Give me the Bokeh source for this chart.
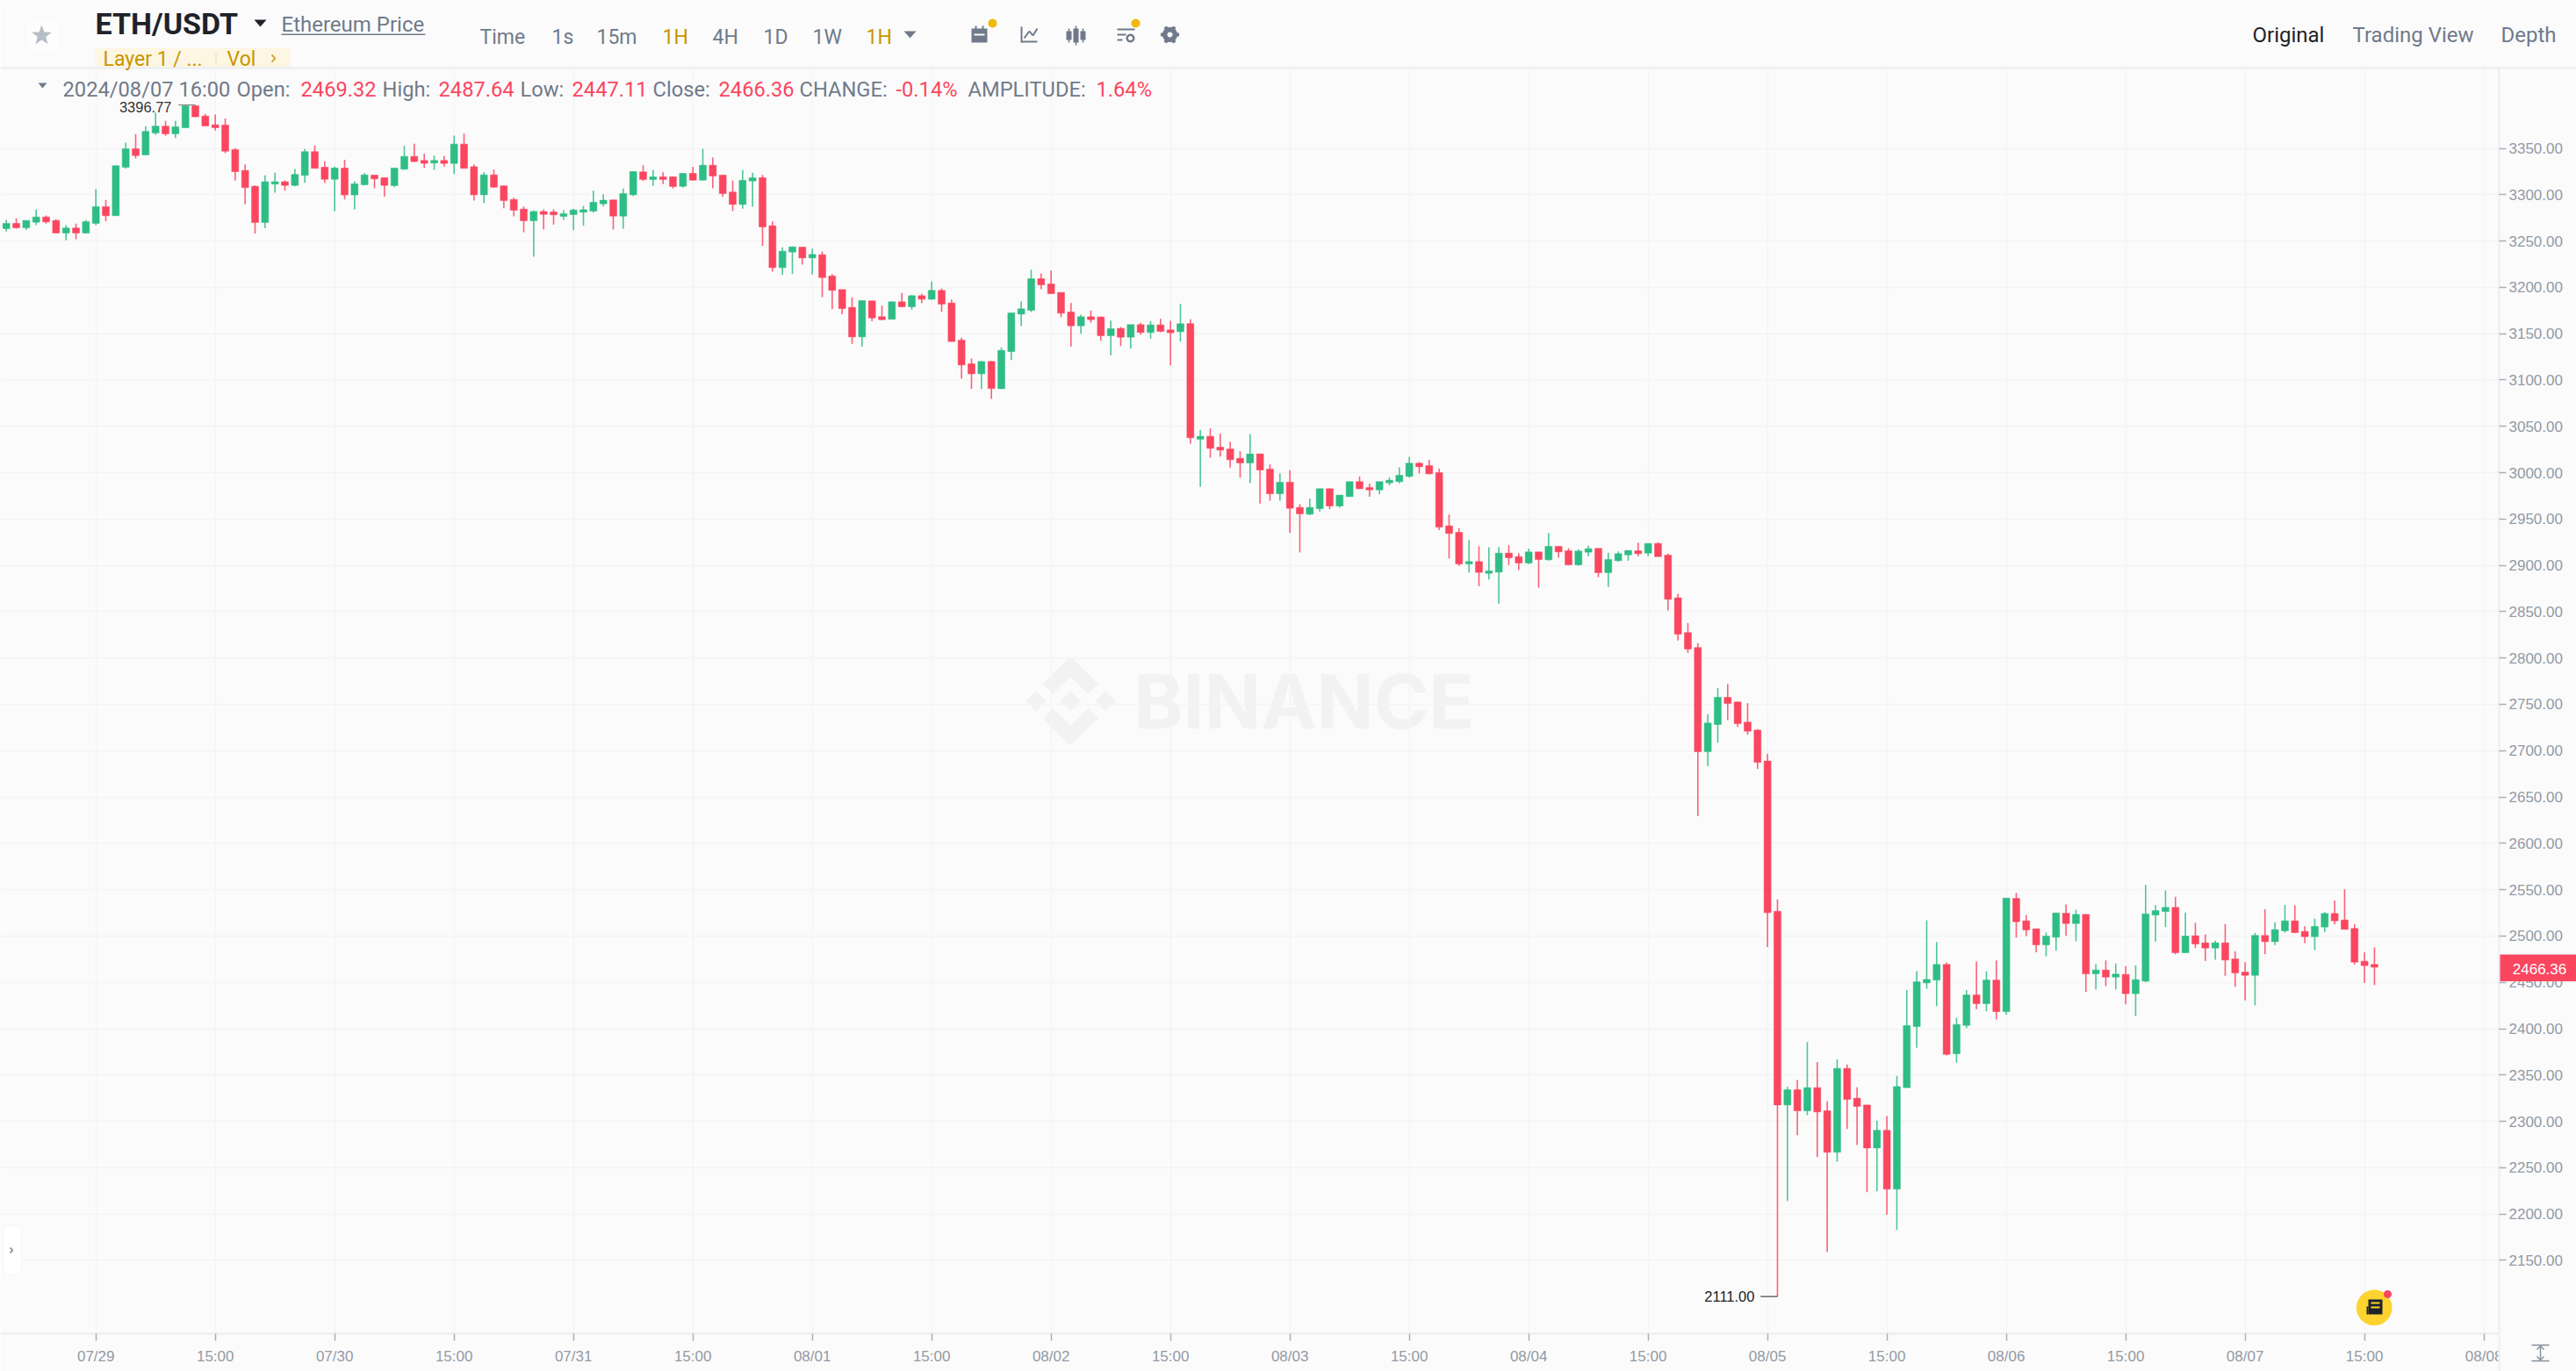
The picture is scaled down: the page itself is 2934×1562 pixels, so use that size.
import math
from bokeh.plotting import figure
from bokeh.models import (BoxAnnotation, ColumnDataSource, FixedTicker, Label,
                          PolyAnnotation, PrintfTickFormatter, Range1d)
from bokeh.core.properties import value
from bokeh.embed import file_html
from bokeh.resources import INLINE

highs = [3272.8,3274.4,3272.2,3283.9,3277.6,3273.5,3267.2,3268.7,3272.8,3306.0,
3294.3,3331.2,3356.2,3365.3,3373.9,3388.7,3379.5,3379.5,3396.0,3396.77,
3387.1,3386.5,3382.1,3350.2,3332.8,3310.1,3320.8,3323.7,3315.5,3327.8,
3349.2,3353.0,3336.0,3330.3,3337.6,3314.5,3323.3,3321.1,3318.6,3328.7,
3352.7,3354.9,3344.2,3342.3,3341.6,3363.7,3365.9,3332.8,3324.2,3327.1,
3310.0,3296.8,3287.3,3283.2,3284.2,3284.5,3283.2,3284.8,3287.9,3304.4,
3300.6,3294.3,3306.6,3325.2,3331.8,3326.5,3324.2,3319.5,3323.0,3330.2,
3349.5,3340.0,3321.1,3315.1,3326.5,3323.6,3321.4,3271.2,3243.1,3244.1,
3243.7,3241.9,3238.7,3214.4,3197.6,3189.1,3185.7,3185.4,3180.3,3184.4,
3193.9,3191.7,3193.2,3206.5,3198.9,3186.9,3145.6,3123.2,3120.0,3120.6,
3135.2,3172.4,3184.7,3219.1,3215.0,3218.2,3194.5,3183.1,3170.5,3174.9,
3168.3,3164.2,3157.2,3159.8,3161.7,3163.6,3166.1,3163.9,3182.2,3165.5,
3046.2,3047.8,3042.1,3033.5,3023.1,3041.4,3020.3,3008.9,2999.1,3002.6,
2966.0,2972.0,2983.0,2982.7,2975.8,2990.3,2996.0,2988.1,2990.3,2995.0,
3005.8,3017.1,3011.4,3014.0,3004.5,2954.9,2940.1,2927.4,2920.5,2919.5,
2919.8,2921.7,2913.2,2918.0,2914.5,2935.0,2920.5,2918.6,2917.3,2921.1,
2918.3,2913.5,2915.1,2916.1,2924.6,2923.6,2924.9,2912.6,2869.4,2837.8,
2816.0,2739.3,2767.7,2772.1,2752.6,2751.3,2723.2,2696.7,2539.4,2337.6,
2344.6,2385.6,2364.1,2321.8,2367.0,2361.3,2336.7,2317.7,2300.7,2305.7,
2349.0,2441.8,2462.0,2517.0,2493.6,2471.5,2411.8,2441.8,2472.4,2462.0,
2473.7,2540.9,2546.6,2522.7,2507.8,2503.7,2524.9,2534.0,2528.4,2523.9,
2469.6,2473.7,2470.3,2467.4,2468.4,2555.2,2533.4,2549.2,2542.3,2525.2,
2514.2,2501.8,2494.9,2512.9,2483.5,2471.8,2503.4,2529.0,2514.8,2533.7,
2533.1,2510.7,2518.6,2525.8,2538.2,2550.5,2512.9,2482.3,2487.64]

lows = [3260.2,3263.4,3261.8,3267.2,3268.7,3258.6,3250.7,3251.7,3258.0,3267.2,
3271.3,3277.3,3328.1,3339.1,3342.9,3364.4,3363.4,3361.2,3372.3,3383.3,
3374.2,3369.1,3344.8,3315.1,3289.6,3258.0,3263.7,3302.2,3304.4,3309.1,
3312.9,3328.1,3312.6,3282.0,3294.9,3283.9,3310.1,3306.9,3297.8,3308.2,
3327.1,3335.0,3328.7,3326.8,3330.2,3322.4,3328.4,3293.6,3291.1,3307.5,
3285.4,3276.6,3259.5,3233.0,3262.4,3267.7,3272.8,3261.7,3266.5,3280.7,
3287.3,3262.4,3263.3,3298.4,3314.8,3309.4,3311.3,3306.6,3307.5,3315.1,
3315.4,3306.9,3297.7,3282.3,3284.8,3287.0,3244.7,3216.9,3213.4,3214.4,
3224.5,3213.8,3189.4,3176.5,3171.1,3138.9,3136.1,3163.3,3164.5,3165.5,
3178.7,3175.9,3183.1,3186.6,3173.4,3141.5,3101.7,3090.3,3090.3,3079.6,
3090.3,3121.6,3158.2,3173.4,3198.0,3192.9,3167.7,3136.1,3150.0,3161.7,
3142.4,3126.6,3136.7,3133.9,3149.0,3144.6,3151.6,3115.9,3141.5,3031.3,
2984.9,3016.2,3017.4,3005.4,2994.7,2988.7,2966.6,2969.8,2969.8,2935.0,
2914.0,2954.0,2957.8,2960.6,2962.2,2973.9,2982.1,2973.9,2976.7,2986.2,
2988.4,2994.7,2999.1,2998.2,2938.0,2907.5,2899.3,2892.4,2877.5,2884.8,
2858.6,2900.3,2894.9,2901.2,2875.9,2905.0,2908.5,2900.0,2899.6,2909.7,
2887.3,2876.6,2904.1,2905.0,2909.7,2909.7,2909.4,2851.3,2818.8,2805.6,
2629.4,2683.1,2708.7,2733.0,2725.7,2717.2,2680.3,2488.2,2111.0,2214.2,
2285.2,2306.7,2261.5,2159.3,2256.2,2291.8,2274.5,2223.7,2224.6,2199.3,
2182.9,2336.4,2379.3,2443.1,2424.4,2371.1,2363.5,2400.8,2421.0,2418.8,
2409.9,2415.0,2498.3,2499.9,2482.3,2478.2,2484.2,2500.3,2494.3,2439.6,
2442.5,2446.0,2442.2,2426.4,2413.8,2450.1,2493.9,2509.7,2480.4,2481.6,
2487.0,2473.1,2474.4,2457.0,2445.3,2430.5,2425.1,2480.4,2490.2,2503.7,
2503.1,2492.4,2484.8,2504.1,2512.6,2507.2,2469.3,2449.4,2447.11]

opens = [3263.4,3269.0,3264.3,3270.3,3276.0,3272.2,3258.6,3264.0,3258.6,3269.0,
3287.1,3277.3,3329.6,3349.6,3342.9,3366.6,3373.9,3365.7,3372.3,3396.0,
3384.9,3375.4,3375.1,3348.6,3326.2,3309.1,3270.0,3311.4,3313.9,3310.1,
3320.8,3346.4,3329.6,3316.7,3328.7,3299.7,3310.7,3321.1,3318.3,3309.8,
3327.4,3341.3,3336.9,3334.1,3336.9,3333.7,3354.6,3330.2,3299.9,3321.4,
3309.4,3294.9,3284.5,3271.8,3281.9,3281.3,3276.6,3278.5,3281.0,3282.3,
3290.2,3294.3,3276.9,3299.9,3324.6,3316.4,3319.2,3319.2,3309.1,3323.0,
3315.7,3331.8,3321.1,3302.8,3289.5,3314.8,3318.3,3266.5,3221.3,3238.1,
3243.4,3231.7,3235.2,3212.2,3197.6,3178.4,3146.5,3185.4,3168.3,3165.5,
3184.4,3179.0,3191.0,3187.2,3196.7,3183.1,3143.0,3117.5,3106.7,3120.0,
3090.6,3130.7,3171.1,3175.2,3209.3,3203.7,3194.5,3173.4,3158.5,3168.3,
3168.0,3147.8,3155.7,3146.2,3159.8,3151.3,3159.5,3154.1,3152.2,3160.8,
3036.1,3039.2,3027.5,3025.6,3015.5,3010.5,3020.3,3003.9,2977.3,2989.7,
2962.5,2955.2,2961.2,2982.7,2964.1,2974.2,2990.3,2984.0,2981.4,2989.0,
2990.3,2996.0,3010.2,3007.6,3000.1,2942.6,2935.6,2901.5,2904.1,2891.4,
2892.7,2913.2,2909.4,2902.5,2914.5,2906.0,2920.5,2915.7,2900.6,2914.2,
2918.3,2892.1,2905.0,2911.3,2915.7,2913.2,2923.6,2911.0,2865.0,2827.4,
2811.3,2698.9,2728.2,2757.6,2752.6,2730.8,2722.2,2688.8,2526.7,2317.7,
2334.1,2311.4,2336.4,2311.4,2266.6,2357.2,2325.0,2317.7,2271.3,2290.3,
2226.8,2336.4,2402.3,2449.4,2452.5,2469.3,2373.0,2403.6,2436.4,2427.0,
2452.5,2418.4,2540.6,2516.4,2507.8,2490.5,2498.7,2524.6,2513.5,2523.3,
2459.2,2463.3,2455.7,2458.6,2437.8,2451.3,2522.7,2526.5,2530.9,2482.0,
2500.3,2492.7,2487.0,2492.7,2475.3,2461.1,2457.6,2500.6,2493.9,2505.6,
2516.4,2505.0,2499.3,2509.7,2524.3,2517.3,2508.2,2472.8,2469.32]

closes = [3269.0,3264.3,3272.2,3276.0,3270.6,3258.6,3264.0,3258.6,3270.9,3287.1,
3277.3,3331.2,3349.6,3342.3,3368.2,3373.9,3365.7,3373.2,3396.0,3384.0,
3374.2,3372.3,3347.0,3324.9,3307.6,3270.0,3313.9,3313.9,3310.1,3321.8,
3346.4,3328.4,3316.7,3328.7,3299.7,3311.7,3321.4,3317.0,3310.1,3328.7,
3341.3,3335.7,3333.8,3336.9,3333.7,3354.6,3328.4,3299.9,3321.4,3308.1,
3293.6,3283.2,3271.8,3281.9,3278.8,3278.2,3279.4,3283.5,3283.8,3291.7,
3294.0,3276.9,3301.2,3324.9,3316.4,3319.2,3316.4,3308.8,3323.0,3315.7,
3331.8,3320.1,3301.2,3289.5,3315.4,3318.3,3265.2,3221.3,3239.0,3243.7,
3231.7,3235.5,3210.6,3196.7,3177.1,3146.5,3185.7,3167.0,3165.1,3184.4,
3179.0,3191.0,3187.2,3196.7,3181.9,3141.5,3116.2,3106.7,3120.0,3090.9,
3132.0,3172.4,3176.8,3209.3,3202.7,3193.2,3172.1,3158.5,3168.3,3165.1,
3147.8,3155.4,3146.2,3159.8,3151.3,3159.5,3152.5,3151.0,3160.7,3037.6,
3039.2,3026.3,3024.4,3014.0,3010.5,3020.3,3002.9,2977.3,2989.7,2961.6,
2955.6,2962.5,2982.7,2964.1,2975.8,2990.3,2982.7,2981.4,2990.3,2991.9,
2997.2,3010.2,3006.4,2998.8,2941.3,2934.4,2901.5,2904.1,2892.4,2894.0,
2913.2,2908.2,2902.5,2914.5,2906.3,2920.5,2914.5,2900.6,2915.4,2917.9,
2892.1,2906.3,2912.6,2916.1,2912.6,2923.6,2909.4,2863.4,2825.8,2809.7,
2698.9,2729.8,2757.6,2751.0,2729.2,2721.0,2687.5,2525.2,2317.7,2334.1,
2311.4,2336.4,2310.2,2266.6,2357.2,2323.7,2316.2,2271.3,2290.3,2226.8,
2337.6,2403.3,2450.6,2453.2,2469.3,2372.3,2404.5,2436.4,2427.0,2452.5,
2418.4,2540.9,2515.4,2506.6,2490.5,2499.9,2524.9,2513.5,2523.3,2459.2,
2463.3,2455.7,2458.9,2437.8,2452.9,2523.9,2527.4,2530.9,2482.0,2499.9,
2491.4,2487.0,2492.7,2474.1,2460.2,2457.6,2500.6,2493.9,2506.9,2516.4,
2503.7,2499.3,2510.4,2524.3,2516.4,2507.2,2471.8,2468.1,2466.36]

tick_labels = ["07/29","15:00","07/30","15:00","07/31","15:00","08/01","15:00","08/02","15:00",
               "08/03","15:00","08/04","15:00","08/05","15:00","08/06","15:00","08/07","15:00","08/08"]
price_ticks = list(range(2150, 3351, 50))

assert len(highs) == len(lows) == len(opens) == len(closes) == 239

GREEN, RED = "#2EBD85", "#FB4660"
GREY, GOLD, DARK = "#707A8A", "#C99400", "#1E2329"
BG = "#FBFBFB"
AXIS_TXT = "#929AA5"
LINE = "#EAECEF"
HOUR_PX, PX0 = 11.333, 6.7
USD_PX, PY0 = 1.0558, 168.5

def xd(px):
    return (px - PX0) / HOUR_PX

def yd(py):
    return 3350 + (PY0 - py) / USD_PX

def at(x, y):
    return {"position": "absolute", "left": f"{x}px", "top": f"{y}px"}

p = figure(width=2934, height=1562, frame_width=2846, frame_height=1442,
           output_backend="svg", toolbar_location=None, tools="",
           x_range=Range1d(xd(0), xd(2846)), y_range=Range1d(yd(1519), yd(77)),
           x_axis_location="below", y_axis_location="right",
           min_border_left=0, min_border_right=88, min_border_top=77, min_border_bottom=43,
           background_fill_color=BG, border_fill_color=BG, outline_line_color=None,
           styles=at(0, 0))

idx = list(range(len(highs)))
src = ColumnDataSource(dict(
    x=idx, o=opens, h=highs, l=lows, c=closes,
    top=[max(a, b) for a, b in zip(opens, closes)],
    bot=[min(a, b) for a, b in zip(opens, closes)],
    col=[GREEN if c >= o else RED for o, c in zip(opens, closes)]))

p.segment("x", "h", "x", "l", source=src, color="col", line_width=1.6, line_alpha=0.85)
p.vbar("x", 0.7, "bot", "top", source=src, fill_color="col", line_color="col", line_width=0.5)

x_ticks = [9 + 12 * k for k in range(len(tick_labels))]
p.xaxis.ticker = FixedTicker(ticks=x_ticks)
p.xaxis.major_label_overrides = {t: s for t, s in zip(x_ticks, tick_labels)}
p.yaxis.ticker = FixedTicker(ticks=price_ticks)
p.yaxis.formatter = PrintfTickFormatter(format="%.2f")
for ax in (p.xaxis[0], p.yaxis[0]):
    ax.axis_line_color = LINE
    ax.axis_line_width = 2
    ax.major_tick_line_color = "#A7AEB9"
    ax.major_tick_line_width = 1.5
    ax.major_tick_out = 8
    ax.major_tick_in = 0
    ax.minor_tick_line_color = None
    ax.major_label_text_font = "Liberation Sans"
    ax.major_label_text_font_size = "17px"
    ax.major_label_text_color = AXIS_TXT
    ax.major_label_standoff = 3
p.xaxis.major_label_standoff = 8
for g in (p.xgrid[0], p.ygrid[0]):
    g.grid_line_color = "#F4F4F5"
    g.grid_line_width = 1.5

# extreme annotations
imax = max(idx, key=lambda i: highs[i])
imin = min(idx, key=lambda i: lows[i])
p.segment([imax - 1.7], [highs[imax]], [imax], [highs[imax]], line_color="#777777", line_width=1)
p.segment([imin - 1.7], [lows[imin]], [imin], [lows[imin]], line_color="#222222", line_width=1)
p.text([imax], [highs[imax]], text=["%.2f" % highs[imax]], x_offset=-27, y_offset=2,
       text_align="right", text_baseline="middle", text_font=value("Liberation Sans"),
       text_font_size="16.5px", text_color="#333333")
p.text([imin], [lows[imin]], text=["%.2f" % lows[imin]], x_offset=-26, y_offset=0,
       text_align="right", text_baseline="middle", text_font=value("Liberation Sans"),
       text_font_size="16.5px", text_color="#222222")

# ---------- page chrome: drawn with page pixel positions on a panel figure ----------
def panel(x, y, w, h):
    f = figure(width=w, height=h, output_backend="svg", toolbar_location=None, tools="",
               x_range=Range1d(0, w), y_range=Range1d(h, 0),
               x_axis_location=None, y_axis_location=None,
               min_border=0, background_fill_color=BG, border_fill_color=BG,
               outline_line_color=None, styles=at(x, y))
    f.grid.visible = False
    return f

class Chrome:
    def __init__(self, fig, ox=0, oy=0):
        self.f, self.ox, self.oy = fig, ox, oy

    def poly(self, pts, color, level="annotation"):
        self.f.add_layout(PolyAnnotation(xs=[a - self.ox for a, _ in pts], ys=[b - self.oy for _, b in pts],
                                         xs_units="canvas", ys_units="canvas", fill_color=color, fill_alpha=1,
                                         line_color=None, level=level))

    def rect(self, x0, y0, x1, y1, color):
        self.poly([(x0, y0), (x1, y0), (x1, y1), (x0, y1)], color)

    def seg(self, x0, y0, x1, y1, w, color):
        L = math.hypot(x1 - x0, y1 - y0) or 1
        nx, ny = -(y1 - y0) / L * w / 2, (x1 - x0) / L * w / 2
        self.poly([(x0 + nx, y0 + ny), (x1 + nx, y1 + ny), (x1 - nx, y1 - ny), (x0 - nx, y0 - ny)], color)

    def circle(self, cx, cy, r, color):
        self.poly([(cx + r * math.cos(t * math.pi / 24), cy + r * math.sin(t * math.pi / 24)) for t in range(48)], color)

    def txt(self, px, py, s, size, color, font="Roboto", style="normal", align="left", level="annotation"):
        self.f.add_layout(Label(x=px - self.ox, y=py - self.oy, x_units="canvas", y_units="canvas", text=s,
                                text_font=font, text_font_size=f"{size}px", text_color=color,
                                text_font_style=style, text_align=align, text_baseline="middle", level=level))

    def rbox(self, x0, y0, x1, y1, fill, line, radius):
        self.f.add_layout(BoxAnnotation(left=x0 - self.ox, right=x1 - self.ox, top=y0 - self.oy, bottom=y1 - self.oy,
                                        left_units="canvas", right_units="canvas", top_units="canvas", bottom_units="canvas",
                                        fill_color=fill, fill_alpha=1, line_color=line, line_width=1,
                                        border_radius=radius, level="annotation"))

m = Chrome(p)

# watermark under the grid
WM = "#F2F2F3"
cx, cy = 1218.8, 798.3
chev = [(0, -50.7), (31.4, -19.7), (20.4, -8.3), (0, -27.7), (-20.4, -8.3), (-31.4, -19.7)]
m.poly([(cx + a, cy + b) for a, b in chev], WM, "image")
m.poly([(cx + a, cy - b) for a, b in chev], WM, "image")
for dx in (-39.2, 0, 40):
    m.poly([(cx + dx, cy - 11.6), (cx + dx + 11.4, cy), (cx + dx, cy + 11.6), (cx + dx - 11.4, cy)], WM, "image")
m.txt(1291, 799, "BINANCE", 85, WM, font="Inter", style="bold", level="image")

# OHLC line
m.poly([(43, 94), (53, 94), (48, 100)], GREY)
for x0, s, col in [(71, "2024/08/07 16:00", GREY), (269, "Open:", GREY), (342, "2469.32", RED),
                   (435, "High:", GREY), (499, "2487.64", RED), (592, "Low:", GREY), (651, "2447.11", RED),
                   (743, "Close:", GREY), (818, "2466.36", RED), (910, "CHANGE:", GREY), (1020, "-0.14%", RED),
                   (1102, "AMPLITUDE:", GREY), (1248, "1.64%", RED)]:
    m.txt(x0, 101, s, 23.7, col)

# left collapse handle
m.rbox(3, 1396, 24, 1452, "#FFFFFF", "#E6E8EB", 6)
m.seg(11, 1421, 14, 1424, 1.4, GREY)
m.seg(14, 1424, 11, 1427, 1.4, GREY)

# news button
m.circle(2703.7, 1489.3, 20.3, "#FDD32F")
m.rect(2697, 1480, 2713, 1497, DARK)
m.rect(2700, 1483, 2710, 1485, "#FDD32F")
m.rect(2700, 1488, 2710, 1490, "#FDD32F")
m.rect(2695, 1488, 2697, 1497, DARK)
m.circle(2719, 1474, 4.5, RED)

# header band: a transparent panel a little taller than the band, so texts keep their full box
head = panel(0, 0, 2934, 90)
head.background_fill_alpha = 0
head.border_fill_alpha = 0
h = Chrome(head)
h.rect(108, 54, 330, 76, "#FDF6E3")
h.rect(0, 76, 2934, 78, LINE)
h.rbox(29, 20, 67, 60, "#FDFDFD", "#EFF0F2", 6)
h.poly([(47 + (12 if k % 2 == 0 else 5) * math.sin(k * math.pi / 5),
         40 - (12 if k % 2 == 0 else 5) * math.cos(k * math.pi / 5)) for k in range(10)], "#B7BDC6")
h.txt(108, 26, "ETH/USDT", 34, DARK, style="bold")
h.poly([(289, 22), (303, 22), (296, 30)], DARK)
h.txt(320, 27, "Ethereum Price", 24, GREY)
h.rect(320, 38, 484, 39.5, GREY)
for x0, s, col in [(546, "Time", GREY), (628, "1s", GREY), (679, "15m", GREY), (754, "1H", GOLD),
                   (811, "4H", GREY), (869, "1D", GREY), (925, "1W", GREY), (986, "1H", GOLD)]:
    h.txt(x0, 42, s, 23, col)
h.poly([(1029, 35), (1043, 35), (1036, 43)], GREY)
h.rect(1106, 32, 1124, 48, GREY)
h.rect(1109, 38, 1121, 40, BG)
h.rect(1110, 29, 1112, 33, GREY)
h.rect(1118, 29, 1120, 33, GREY)
h.circle(1130, 26, 5, "#F0B90B")
h.seg(1163, 30, 1163, 48, 2, GREY)
h.seg(1163, 47, 1181, 47, 2, GREY)
h.seg(1166, 43, 1172, 35, 2, GREY)
h.seg(1172, 35, 1176, 40, 2, GREY)
h.seg(1176, 40, 1181, 32, 2, GREY)
for bx, t, b in [(1217, 35, 45), (1225, 32, 48), (1233, 35, 45)]:
    h.rect(bx - 3, t, bx + 3, b, GREY)
    h.seg(bx, t - 3, bx, b + 3, 1.5, GREY)
for ly, a, b in [(33, 1272, 1292), (39, 1272, 1282), (45, 1272, 1278)]:
    h.seg(a, ly, b, ly, 2, GREY)
h.circle(1287, 43, 5, GREY)
h.circle(1287, 43, 2.5, BG)
h.circle(1293, 26, 5, "#F0B90B")
h.circle(1332, 39, 8.5, GREY)
for k in range(6):
    a = k * math.pi / 3
    h.seg(1332, 39, 1332 + 10.5 * math.cos(a), 39 + 10.5 * math.sin(a), 4, GREY)
h.circle(1332, 39, 3, BG)
h.txt(2565, 39, "Original", 24, DARK)
h.txt(2679, 39, "Trading View", 24, GREY)
h.txt(2848, 39, "Depth", 24, GREY)
h.txt(117, 67, "Layer 1 / ...", 23, GOLD)
h.rect(245, 60, 246, 72, "#E8D9A8")
h.txt(258, 67, "Vol", 23, GOLD)
h.seg(309, 62, 313, 66, 1.6, GOLD)
h.seg(313, 66, 309, 70, 1.6, GOLD)

# price tag on the axis
tag = panel(2847, 1087, 87, 31)
tag.background_fill_color = RED
tag.border_fill_color = RED
Chrome(tag, 2847, 1087).txt(2892, 1103, "%.2f" % closes[-1], 17, "#FFFFFF",
                            font="Liberation Sans", align="center")

# bottom-right corner
corner = panel(2845, 1520, 89, 42)
c = Chrome(corner, 2845, 1520)
c.rect(2845, 1520, 2847, 1562, LINE)
ICON = "#848E9C"
c.seg(2883, 1532, 2903, 1532, 1.4, ICON)
c.seg(2883, 1550, 2903, 1550, 1.4, ICON)
c.seg(2893, 1533, 2893, 1549, 1.4, ICON)
c.seg(2889, 1537, 2893, 1533, 1.4, ICON)
c.seg(2897, 1537, 2893, 1533, 1.4, ICON)
c.seg(2889, 1545, 2893, 1549, 1.4, ICON)
c.seg(2897, 1545, 2893, 1549, 1.4, ICON)

open("out.html", "w").write(file_html([p, head, tag, corner], INLINE))
